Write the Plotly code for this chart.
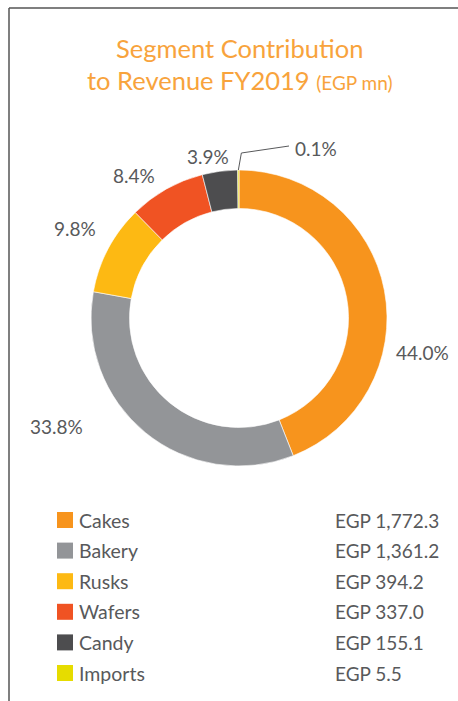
import math
import plotly.graph_objects as go

# ---- data ----
segments = ["Cakes", "Bakery", "Rusks", "Wafers", "Candy", "Imports"]
revenue = [1772.3, 1361.2, 394.2, 337.0, 155.1, 5.5]
value_labels = ["EGP 1,772.3", "EGP 1,361.2", "EGP 394.2", "EGP 337.0", "EGP 155.1", "EGP 5.5"]

# ---- style / layout ----
colors = ["#F7941D", "#939598", "#FDB913", "#F05323", "#4D4D4F", "#E6DC00"]
W, H = 458, 701
CX, CY, R = 239, 318, 148          # donut centre / outer radius (px)
HOLE = 0.74
TEXT = "#58595B"
TITLE = "#F8A33C"
FONT = "Lato, 'Open Sans', sans-serif"
# label anchors (px) for the outside percentage labels
label_px = [(422, 352), (56, 426), (75, 228), (134, 175), (208, 156), (293, 148)]


def px(x):
    return x / W


def py(y):
    return 1 - y / H


fig = go.Figure(go.Pie(
    labels=segments, values=revenue, sort=False, direction="clockwise",
    rotation=0, hole=HOLE, textinfo="none", hoverinfo="label+value+percent",
    marker=dict(colors=colors, line=dict(color="white", width=0.6)),
    domain=dict(x=[px(CX - R), px(CX + R)], y=[py(CY + R), py(CY - R)]),
    showlegend=False,
))

total = sum(revenue)
annotations = []
shapes = []

# percentage labels
for i, v in enumerate(revenue):
    lx, ly = label_px[i]
    annotations.append(dict(
        x=px(lx), y=py(ly), xref="paper", yref="paper", showarrow=False,
        text=f"{v / total * 100:.1f}%", xanchor="left" if i == 5 else "center",
        yanchor="middle", font=dict(family=FONT, size=19, color=TEXT)))

# leader line for the tiny Imports slice
cum = sum(revenue[:5]) + revenue[5] / 2
theta = math.radians(cum / total * 360)
sx, sy = CX + R * math.sin(theta), CY - R * math.cos(theta)
ex, ey = sx + 3, sy - 17
lx, ly = label_px[5]
shapes.append(dict(type="path", xref="paper", yref="paper",
                   path=f"M{px(sx)},{py(sy)} L{px(ex)},{py(ey)} L{px(lx - 4)},{py(ly - 2)}",
                   line=dict(color=TEXT, width=1)))

# title
annotations.append(dict(x=px(239), y=py(48), xref="paper", yref="paper", showarrow=False,
                        text="Segment Contribution", xanchor="center", yanchor="middle",
                        font=dict(family=FONT, size=25.5, color=TITLE)))
annotations.append(dict(x=px(239), y=py(80), xref="paper", yref="paper", showarrow=False,
                        text="to Revenue FY2019 <span style='font-size:19px'>(EGP mn)</span>",
                        xanchor="center", yanchor="middle",
                        font=dict(family=FONT, size=25.5, color=TITLE)))

# custom legend
row0, step = 520, 30.6
for i, name in enumerate(segments):
    yc = row0 + i * step
    shapes.append(dict(type="rect", xref="paper", yref="paper",
                       x0=px(57), x1=px(73), y0=py(yc + 8), y1=py(yc - 8),
                       fillcolor=colors[i], line=dict(width=0)))
    annotations.append(dict(x=px(77), y=py(yc), xref="paper", yref="paper", showarrow=False,
                            text=name, xanchor="left", yanchor="middle",
                            font=dict(family=FONT, size=19.5, color=TEXT)))
    annotations.append(dict(x=px(333), y=py(yc), xref="paper", yref="paper", showarrow=False,
                            text=value_labels[i], xanchor="left", yanchor="middle",
                            font=dict(family=FONT, size=19, color=TEXT)))

# frame (left and top border)
shapes.append(dict(type="line", xref="paper", yref="paper", x0=px(9), x1=px(9),
                   y0=0, y1=py(8), line=dict(color="#555555", width=1.5)))
shapes.append(dict(type="line", xref="paper", yref="paper", x0=px(9), x1=1,
                   y0=py(8), y1=py(8), line=dict(color="#555555", width=1.5)))

fig.update_layout(width=W, height=H, margin=dict(l=0, r=0, t=0, b=0),
                  paper_bgcolor="white", plot_bgcolor="white",
                  annotations=annotations, shapes=shapes)
fig.write_html("out.html", config={"displayModeBar": False},
               post_script="document.body.style.margin='0';document.body.style.overflow='hidden';")
